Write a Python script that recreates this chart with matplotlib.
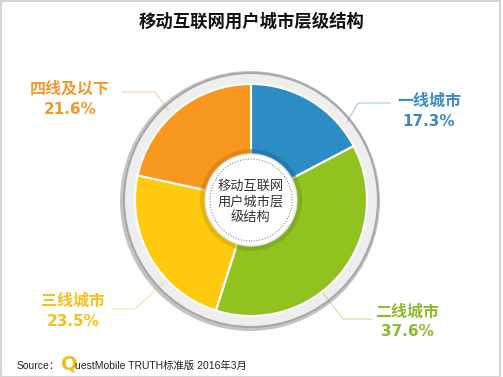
import matplotlib.pyplot as plt
from matplotlib.patches import Circle, Rectangle

plt.rcParams['font.family'] = ['Noto Sans CJK SC', 'DejaVu Sans']

# 数据
categories = ['一线城市', '二线城市', '三线城市', '四线及以下']
shares = [17.3, 37.6, 23.5, 21.6]
colors = ['#2B8DC4', '#92C220', '#FFC90E', '#F7971E']
dark_colors = ['#1F6F9E', '#74A01A', '#D9A800', '#D97A0E']
label_colors = ['#3A8CC0', '#8DBA2C', '#F2C21A', '#EE9A2E']
center_text = '移动互联网\n用户城市层\n级结构'
title = '移动互联网用户城市层级结构'

# 布局（像素坐标，y 向上）
W, H = 503, 377
cx, cy = 251, 177
label_pos = [(429, 267), (407, 56), (73, 67), (70, 279)]
leader = [[(347, 255), (358, 274), (390, 274)],
          [(323, 84), (343, 58), (372, 58)],
          [(163, 94), (135, 68), (112, 68)],
          [(168, 267), (155, 285), (122, 285)]]

fig = plt.figure(figsize=(W / 100, H / 100), dpi=100)
ax = fig.add_axes([0, 0, 1, 1])

# 外圈灰环
ax.add_patch(Circle((cx - 1, cy - 1), 130, facecolor='#C4C4C4', edgecolor='none', zorder=1))
ax.add_patch(Circle((cx, cy), 127, facecolor='#EEEEEE', edgecolor='#A8A8A8', lw=1.5, zorder=2))

ax.pie(shares, colors=colors, startangle=90, counterclock=False, center=(cx, cy), radius=116,
       wedgeprops=dict(edgecolor='white', linewidth=1.5, zorder=3), frame=True)
ax.pie(shares, colors=dark_colors, startangle=90, counterclock=False, center=(cx, cy), radius=51,
       wedgeprops=dict(edgecolor='none', linewidth=0, alpha=0.6, zorder=4), frame=True)

ax.add_patch(Circle((cx, cy), 46, facecolor='white', edgecolor='#E0E0E0', lw=1, zorder=5))
ax.add_patch(Circle((cx, cy), 41, facecolor='none', edgecolor='#8A8A8A', lw=0.8,
                    linestyle=(0, (1, 1.5)), zorder=6))
ax.text(cx, cy - 2, center_text, ha='center', va='center', fontsize=9.5, color='#333333',
        linespacing=1.25, zorder=7)

for cat, val, c, pos, pts in zip(categories, shares, label_colors, label_pos, leader):
    xs = [p[0] for p in pts]
    ys = [p[1] for p in pts]
    ax.plot(xs, ys, color=c, lw=0.8, alpha=0.45, zorder=8)
    ax.text(pos[0], pos[1] + 9, cat, ha='center', va='center', fontsize=11.5,
            fontweight='bold', color=c)
    ax.text(pos[0], pos[1] - 11, '%.1f%%' % val, ha='center', va='center', fontsize=11,
            fontweight='bold', color=c, family='DejaVu Sans')

ax.text(W / 2, H - 22, title, ha='center', va='center', fontsize=12.5, fontweight='bold',
        color='#111111')

# 来源
ax.text(17, 11, 'Source：', ha='left', va='center', fontsize=7.5, color='#222222',
        family=['Liberation Sans', 'Noto Sans CJK SC'])
ax.text(61, 13, 'Q', ha='left', va='center', fontsize=14, fontweight='bold', color='#E6C21C',
        family='DejaVu Sans')
ax.text(75, 11, 'uestMobile TRUTH标准版 2016年3月', ha='left', va='center', fontsize=7.5,
        color='#222222', family=['Liberation Sans', 'Noto Sans CJK SC'])

ax.add_patch(Rectangle((0.5, 0.5), W - 3, H - 1.5, facecolor='none', edgecolor='#D6D6D6', lw=1.5))

ax.set_xlim(0, W)
ax.set_ylim(0, H)
ax.set_aspect('equal')
ax.axis('off')

fig.savefig('out.png', dpi=100)
